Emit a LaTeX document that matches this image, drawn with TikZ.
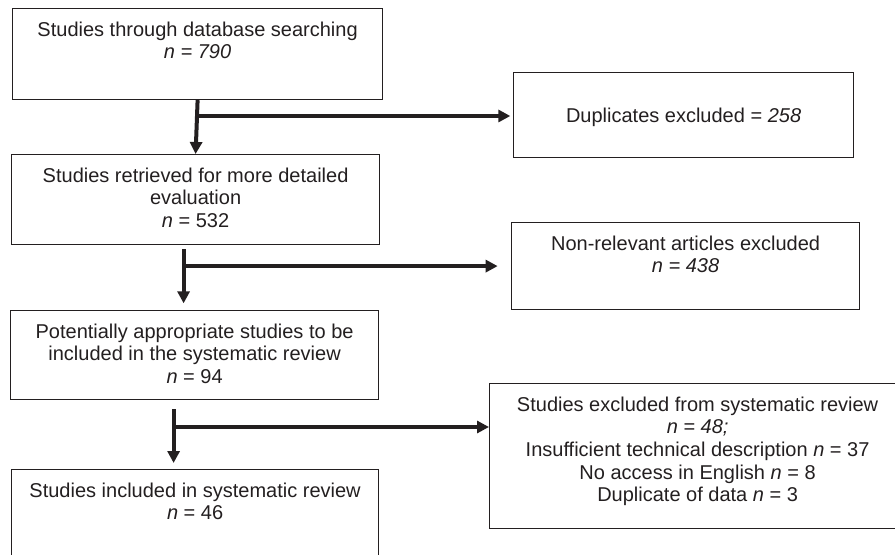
\documentclass[tikz,border=0pt]{standalone}
\usepackage{fontspec}
\setmainfont{Liberation Sans}
\usetikzlibrary{arrows.meta}
\definecolor{ink}{RGB}{35,31,32}
\begin{document}
\begin{tikzpicture}[x=0.75pt, y=-0.75pt,
	box/.style={draw=ink, line width=0.9pt, rectangle, anchor=north west, inner sep=0pt},
	txt/.style={anchor=north, inner sep=0pt, align=center, text=ink, font=\fontsize{15}{17}\selectfont},
	arr/.style={draw=ink, line width=2.4pt, -{Triangle[length=9pt,width=9pt]}},
	down/.style={arr, line width=3pt}]
	\path[use as bounding box, clip] (0,0) rectangle (895,555);
	% linke Spalte
	\node[box, minimum width=277.5pt, minimum height=68.25pt] (search) at (12,8) {};
	\node[box, minimum width=276pt, minimum height=67.5pt] (retr) at (11,154) {};
	\node[box, minimum width=276pt, minimum height=66.75pt] (pot) at (10,310) {};
	\node[box, minimum width=275.25pt, minimum height=82.5pt] (incl) at (11,469) {};
	% rechte Spalte
	\node[box, minimum width=255pt, minimum height=63.75pt] (dup) at (513,72) {};
	\node[box, minimum width=261pt, minimum height=65.25pt] (nonrel) at (511,222) {};
	\node[box, minimum width=312pt, minimum height=108.75pt] (excl) at (489,383) {};
	% Beschriftung
	\node[txt] (searchtxt) at ([yshift=-10pt]search.north) {Studies through database searching\\\textit{n = 790}};
	\node[txt] (retrtxt) at ([yshift=-10pt]retr.north) {Studies retrieved for more detailed\\evaluation\\\textit{n} = 532};
	\node[txt] (pottxt) at ([yshift=-10pt]pot.north) {Potentially appropriate studies to be\\included in the systematic review\\\textit{n} = 94};
	\node[txt] (incltxt) at ([yshift=-10pt]incl.north) {Studies included in systematic review\\\textit{n} = 46};
	\node[txt] (duptxt) at ([yshift=-26.5pt]dup.north) {Duplicates excluded = \textit{258}};
	\node[txt] (nonreltxt) at ([yshift=-10pt]nonrel.north) {Non-relevant articles excluded\\\textit{n = 438}};
	\node[txt] (excltxt) at ([yshift=-10pt]excl.north) {Studies excluded from systematic review\\\textit{n = 48;}\\Insufficient technical description \textit{n} = 37\\No access in English \textit{n} = 8\\Duplicate of data \textit{n} = 3};
	% Pfeile
	\coordinate (a2) at ([xshift=-9pt, yshift=-3pt]retr.south);
	\coordinate (a3) at ([xshift=-15.75pt, yshift=-6.75pt]pot.south);
	\coordinate (h1) at ([yshift=-33pt]dup.north west);
	\coordinate (h3) at ([yshift=-33pt]excl.north west);
	\draw[down] (search.south) -- (retr.north);
	\draw[arr, shorten >=2pt] (search.south |- h1) -- (h1);
	\draw[down, shorten >=5pt] (a2) -- (a2 |- pot.north);
	\draw[arr, shorten >=10pt] (a2 |- nonrel.west) -- (nonrel.west);
	\draw[down, shorten >=4.5pt] (a3) -- (a3 |- incl.north);
	\draw[arr] (a3 |- h3) -- (h3);
\end{tikzpicture}
\end{document}
